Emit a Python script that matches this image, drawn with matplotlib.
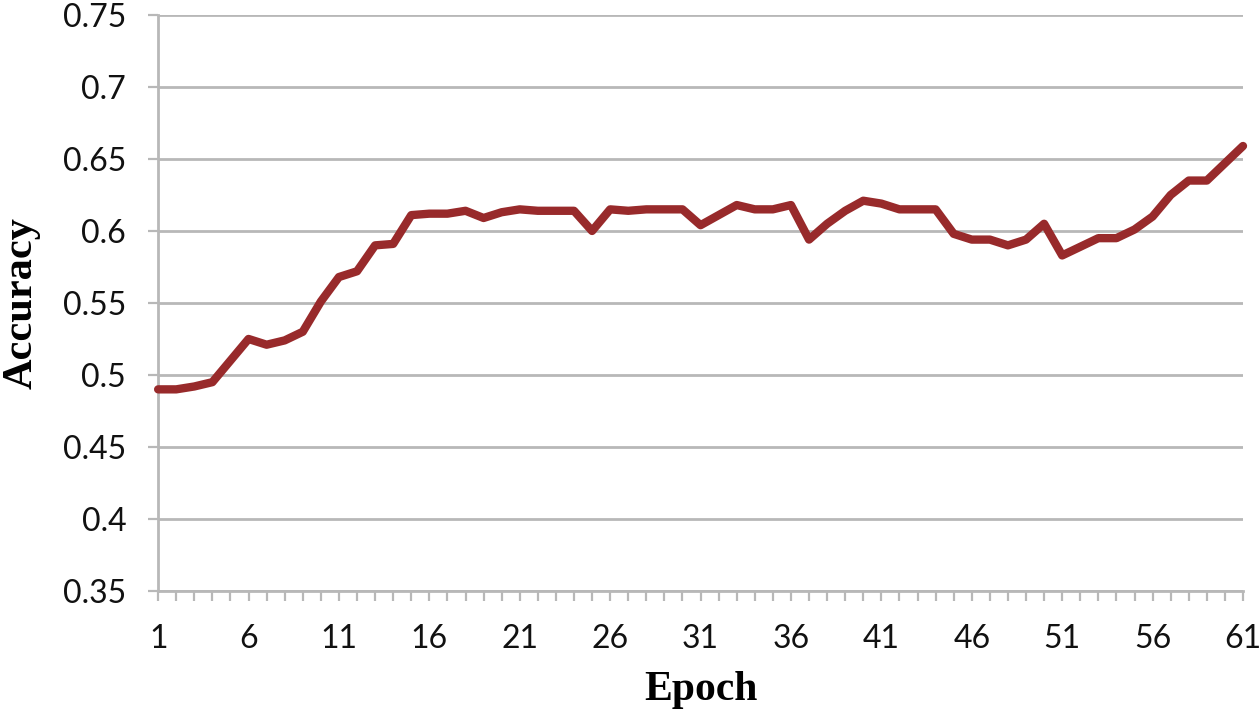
import matplotlib.pyplot as plt
from matplotlib.ticker import MultipleLocator

epochs = list(range(1, 62))
accuracy = [
    0.490, 0.490, 0.492, 0.495, 0.510, 0.525, 0.521, 0.524, 0.530, 0.551,
    0.568, 0.572, 0.590, 0.591, 0.611, 0.612, 0.612, 0.614, 0.609, 0.613,
    0.615, 0.614, 0.614, 0.614, 0.600, 0.615, 0.614, 0.615, 0.615, 0.615,
    0.604, 0.611, 0.618, 0.615, 0.615, 0.618, 0.594, 0.605, 0.614, 0.621,
    0.619, 0.615, 0.615, 0.615, 0.598, 0.594, 0.594, 0.590, 0.594, 0.605,
    0.583, 0.589, 0.595, 0.595, 0.601, 0.610, 0.625, 0.635, 0.635, 0.647,
    0.659,
]
x_labels = list(range(1, 62, 5))
y_ticks = [0.35, 0.4, 0.45, 0.5, 0.55, 0.6, 0.65, 0.7, 0.75]

grey = '#b8b8b8'
line_color = '#982a2b'

fig = plt.figure(figsize=(12.6, 7.12), dpi=100)
ax = fig.add_axes([0.1255, 0.17, 0.861, 0.809])

ax.plot(epochs, accuracy, color=line_color, linewidth=6, solid_joinstyle='round',
        solid_capstyle='round', clip_on=False, zorder=3)

ax.set_xlim(1, 61)
ax.set_ylim(0.35, 0.75)
ax.set_yticks(y_ticks)
ax.set_yticklabels(['0.35', '0.4', '0.45', '0.5', '0.55', '0.6', '0.65', '0.7', '0.75'])
ax.set_xticks(x_labels)
ax.set_xticklabels([str(v) for v in x_labels])
ax.xaxis.set_minor_locator(MultipleLocator(1))

ax.grid(axis='y', color=grey, linewidth=2)
ax.set_axisbelow(True)

for side in ['top', 'right']:
    ax.spines[side].set_visible(False)
for side in ['left', 'bottom']:
    ax.spines[side].set_color(grey)
    ax.spines[side].set_linewidth(2)

ax.tick_params(axis='x', which='both', direction='out', length=7, width=1.6,
               color=grey, pad=17)
ax.tick_params(axis='y', direction='out', length=7, width=1.6, color=grey, pad=16)
for lab in ax.get_xticklabels() + ax.get_yticklabels():
    lab.set_fontfamily('Lato')
    lab.set_fontsize(23)
    lab.set_color('#111111')

ax.set_xlabel('Epoch', fontfamily='Liberation Serif', fontweight='bold',
              fontsize=30, labelpad=12)
ax.set_ylabel('Accuracy', fontfamily='Liberation Serif', fontweight='bold',
              fontsize=30.5, labelpad=16)

fig.savefig('out.png', dpi=100)
